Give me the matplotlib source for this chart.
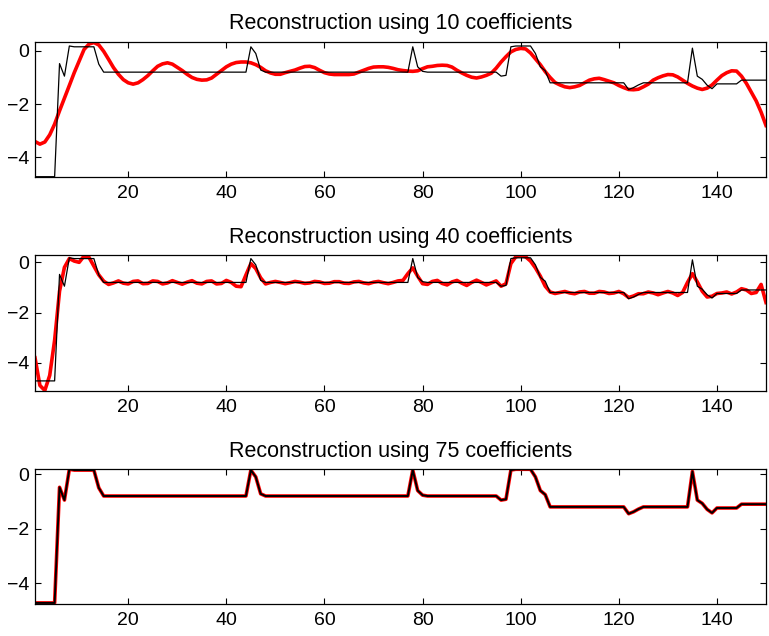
import matplotlib
matplotlib.use("Agg")
import matplotlib.pyplot as plt
import numpy as np

plt.rcParams['font.family'] = ['Liberation Sans', 'DejaVu Sans']

# sample index 1..150
x_values = list(range(1, 151))

# original signal (black)
signal = (
    [-4.72, -4.72, -4.72, -4.72, -4.72, -0.48, -0.95, 0.18, 0.15, 0.15,
     0.15, 0.15, 0.15, -0.50, -0.80]
    + [-0.80] * 29                                   # x 16..44
    + [0.15, -0.10, -0.72]                           # x 45..47
    + [-0.80] * 30                                   # x 48..77
    + [0.15, -0.60, -0.77]                           # x 78..80
    + [-0.80] * 15                                   # x 81..95
    + [-0.95, -0.92, 0.15, 0.18, 0.18, 0.18, 0.18, -0.10, -0.60, -0.75]  # x 96..105
    + [-1.20] * 16                                   # x 106..121
    + [-1.45, -1.38, -1.28]                          # x 122..124
    + [-1.20] * 10                                   # x 125..134
    + [0.10, -0.95, -1.07, -1.29, -1.42]             # x 135..139
    + [-1.24] * 5                                    # x 140..144
    + [-1.10] * 6                                    # x 145..150
)

# reconstruction using 10 coefficients (red, top)
recon10 = [
    -3.40, -3.50, -3.42, -3.15, -2.75, -2.25, -1.78, -1.30, -0.82, -0.38,
    0.05, 0.25, 0.31, 0.22, -0.02, -0.32, -0.63, -0.88, -1.08, -1.20,
    -1.25, -1.20, -1.08, -0.93, -0.75, -0.58, -0.49, -0.45, -0.50, -0.62,
    -0.74, -0.88, -1.00, -1.07, -1.10, -1.09, -1.02, -0.88, -0.74, -0.60,
    -0.50, -0.44, -0.42, -0.42, -0.45, -0.52, -0.62, -0.75, -0.83, -0.88,
    -0.88, -0.82, -0.77, -0.72, -0.65, -0.59, -0.58, -0.63, -0.73, -0.82,
    -0.87, -0.89, -0.89, -0.89, -0.89, -0.87, -0.80, -0.73, -0.66, -0.61,
    -0.60, -0.60, -0.62, -0.66, -0.71, -0.74, -0.76, -0.77, -0.75, -0.67,
    -0.60, -0.58, -0.55, -0.54, -0.55, -0.61, -0.73, -0.83, -0.92, -0.99,
    -1.02, -0.98, -0.92, -0.84, -0.65, -0.42, -0.22, -0.04, 0.05, 0.09,
    0.07, -0.08, -0.30, -0.52, -0.78, -1.00, -1.19, -1.28, -1.35, -1.38,
    -1.35, -1.30, -1.20, -1.10, -1.05, -1.03, -1.08, -1.14, -1.20, -1.30,
    -1.38, -1.45, -1.46, -1.44, -1.35, -1.25, -1.10, -1.01, -0.94, -0.89,
    -0.90, -0.98, -1.10, -1.22, -1.32, -1.40, -1.45, -1.40, -1.28, -1.10,
    -0.93, -0.82, -0.75, -0.76, -0.95, -1.22, -1.55, -1.88, -2.30, -2.80,
]

# reconstruction using 40 coefficients (red, middle)
recon40 = [
    -3.80, -4.90, -5.10, -4.50, -3.10, -1.15, -0.20, 0.15, 0.05, 0.00,
    0.25, 0.20, -0.15, -0.50, -0.75, -0.88, -0.82, -0.74, -0.83, -0.86,
    -0.76, -0.74, -0.85, -0.84, -0.74, -0.76, -0.86, -0.82, -0.73, -0.80,
    -0.87, -0.79, -0.73, -0.83, -0.86, -0.76, -0.74, -0.86, -0.84, -0.72,
    -0.80, -0.95, -0.97, -0.50, -0.05, -0.25, -0.62, -0.86, -0.80, -0.76,
    -0.80, -0.85, -0.81, -0.76, -0.79, -0.84, -0.82, -0.76, -0.78, -0.84,
    -0.83, -0.77, -0.77, -0.83, -0.84, -0.78, -0.76, -0.82, -0.85, -0.79,
    -0.76, -0.81, -0.85, -0.80, -0.74, -0.72, -0.45, -0.22, -0.55, -0.85,
    -0.88, -0.76, -0.72, -0.84, -0.90, -0.78, -0.72, -0.83, -0.92, -0.80,
    -0.71, -0.80, -0.90, -0.82, -0.74, -0.95, -0.85, -0.05, 0.22, 0.27,
    0.22, 0.05, -0.22, -0.55, -0.95, -1.18, -1.24, -1.20, -1.16, -1.22,
    -1.25, -1.18, -1.16, -1.23, -1.23, -1.16, -1.18, -1.24, -1.22, -1.16,
    -1.25, -1.40, -1.34, -1.25, -1.25, -1.18, -1.22, -1.29, -1.22, -1.16,
    -1.22, -1.32, -1.20, -0.80, -0.45, -0.78, -1.15, -1.38, -1.35, -1.24,
    -1.22, -1.18, -1.26, -1.18, -1.05, -1.10, -1.24, -1.20, -0.88, -1.60,
]

# reconstruction using 75 coefficients (red, bottom) - visually identical to the signal
recon75 = list(signal)

titles = ["Reconstruction using 10 coefficients",
          "Reconstruction using 40 coefficients",
          "Reconstruction using 75 coefficients"]
recons = [recon10, recon40, recon75]
ylims = [(-4.72, 0.33), (-5.11, 0.28), (-4.76, 0.19)]
xticks = [20, 40, 60, 80, 100, 120, 140]
yticks = [-4, -2, 0]

W, H = 769, 636
fig = plt.figure(figsize=(W / 100, H / 100), dpi=100)
boxes = [(42, 176.7), (255.3, 390.7), (469, 604)]
left_px, right_px = 35, 766

for i, (top, bot) in enumerate(boxes):
    ax = fig.add_axes([left_px / W, 1 - bot / H, (right_px - left_px) / W, (bot - top) / H])
    ax.plot(x_values, recons[i], color='#ff0000', lw=2.6, solid_joinstyle='round', zorder=2)
    ax.plot(x_values, signal, color='black', lw=1.4 if i == 2 else 0.9, zorder=3)
    ax.set_xlim(1, 150)
    ax.set_ylim(*ylims[i])
    ax.set_xticks(xticks)
    ax.set_yticks(yticks)
    ax.tick_params(direction='in', top=True, right=True, length=4, width=0.8,
                   labelsize=14, pad=6)
    ax.tick_params(axis='y', pad=4)
    for s in ax.spines.values():
        s.set_linewidth(0.9)
        s.set_zorder(4)
    ax.set_title(titles[i], fontsize=15.5, pad=9)

fig.savefig("out.png", dpi=100)
